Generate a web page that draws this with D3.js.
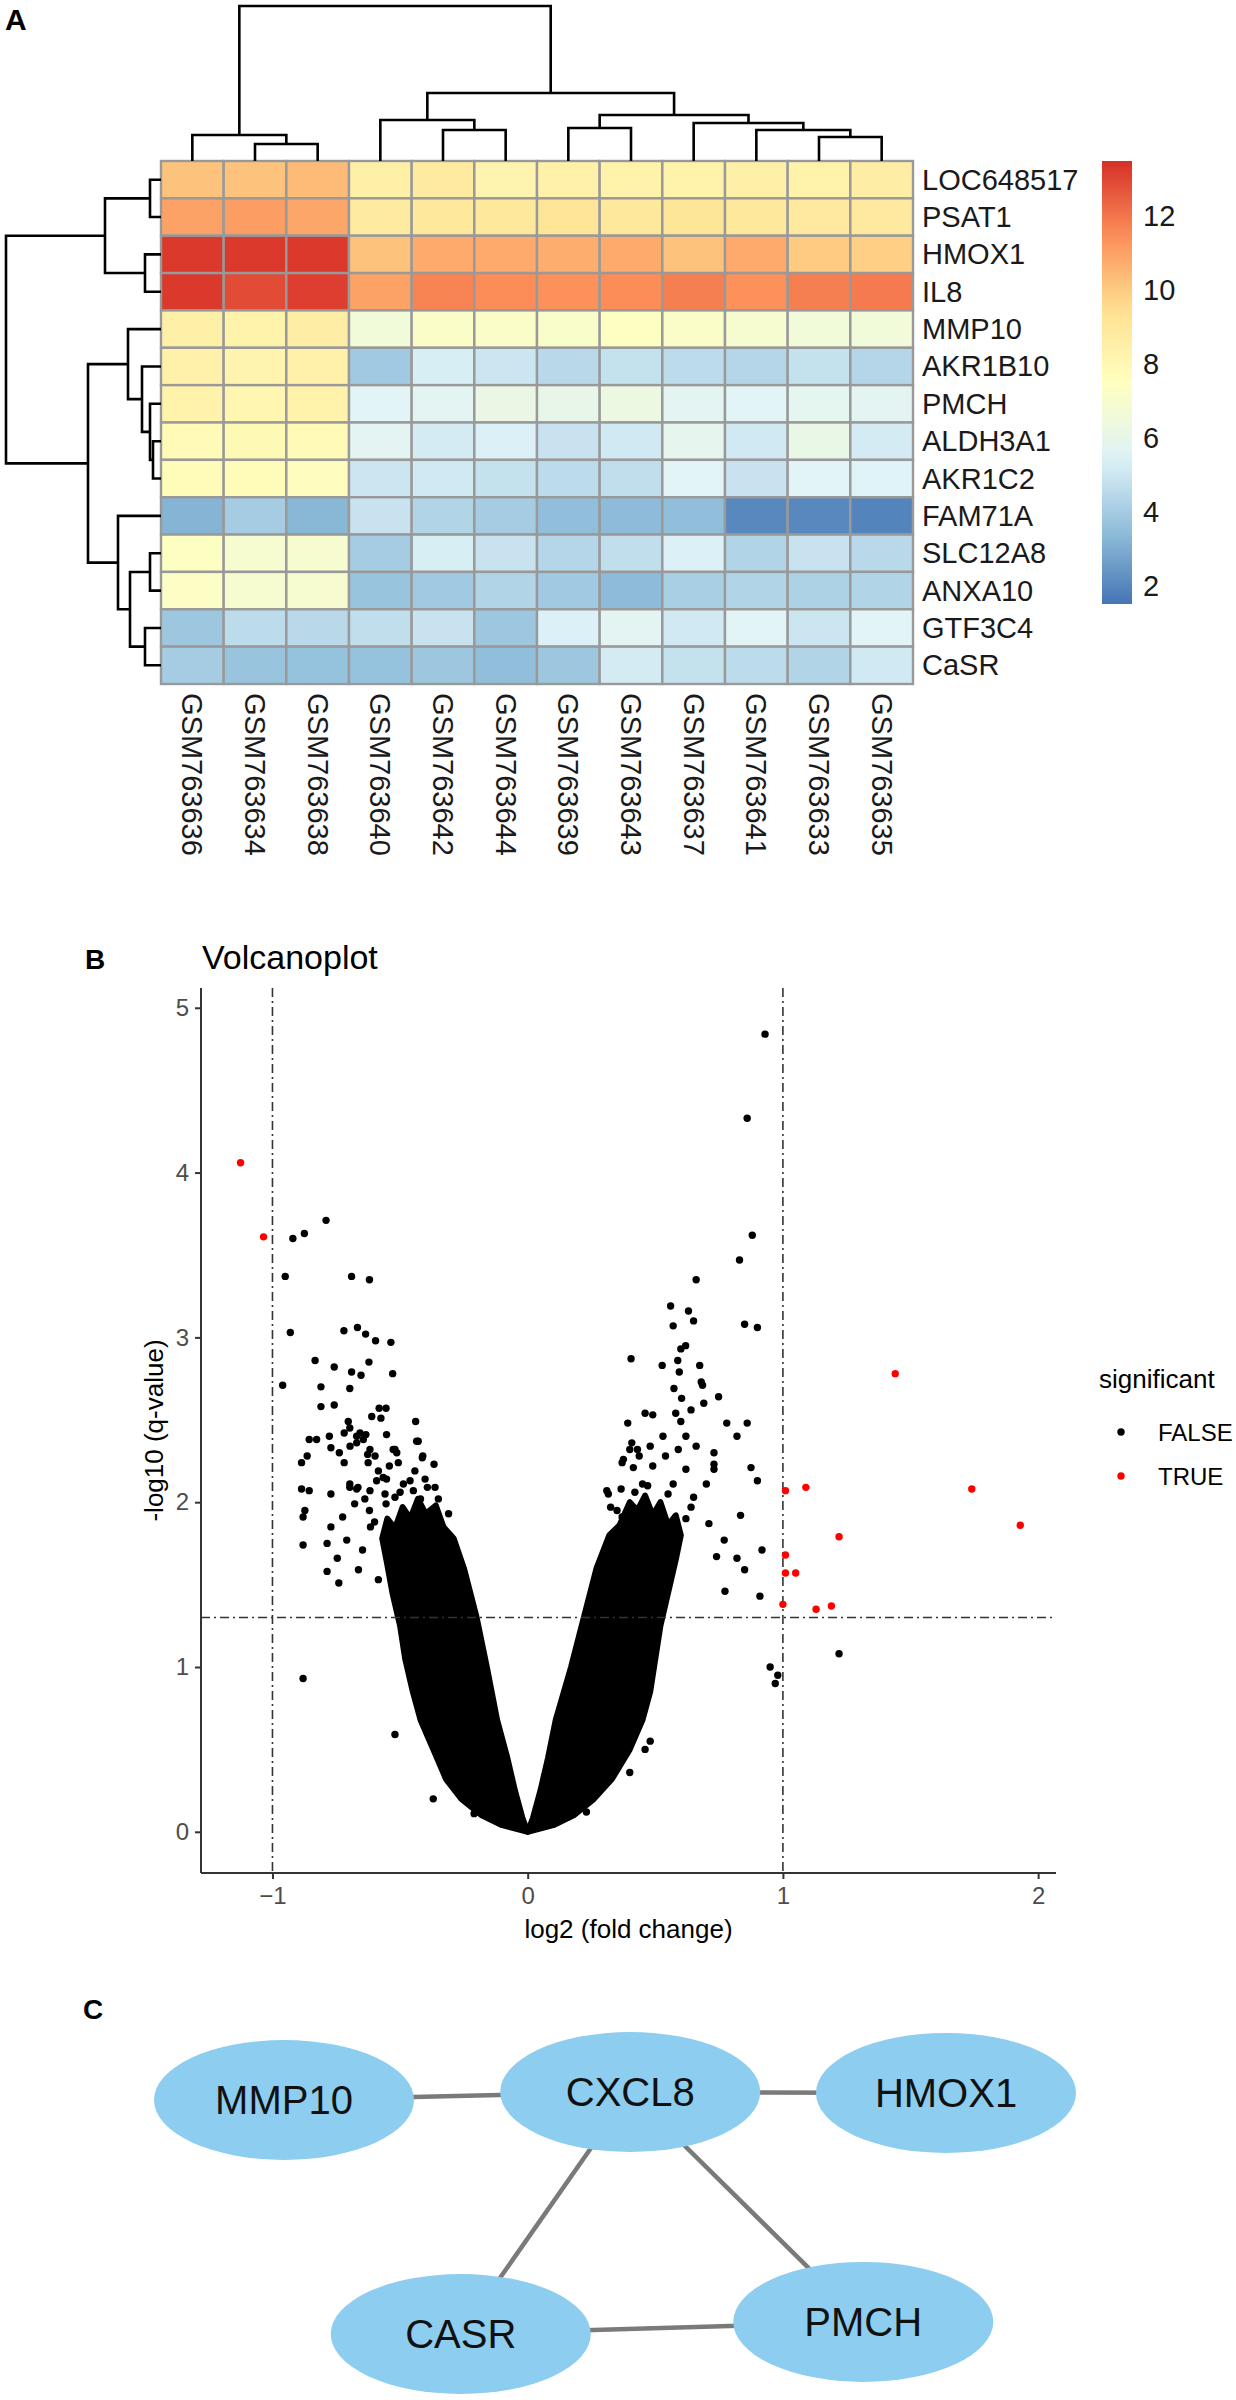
<!DOCTYPE html>
<html lang="en">
<head>
    <meta charset="UTF-8">
    <title>Heatmap, volcano plot and network</title>
    <script src="https://d3js.org/d3.v7.min.js"></script>
    <style>
        body { margin: 0; background: #fff; }
        text { font-family: "Liberation Sans", Arial, sans-serif; }
    </style>
</head>
<body>
<div id="fig"></div>
<script type="text/javascript">

    // ---- panel A data ----
    var genes = ["LOC648517", "PSAT1", "HMOX1", "IL8", "MMP10", "AKR1B10", "PMCH",
                 "ALDH3A1", "AKR1C2", "FAM71A", "SLC12A8", "ANXA10", "GTF3C4", "CaSR"];
    var samples = ["GSM763636", "GSM763634", "GSM763638", "GSM763640", "GSM763642", "GSM763644",
                   "GSM763639", "GSM763643", "GSM763637", "GSM763641", "GSM763633", "GSM763635"];
    // expression, one row per gene, columns in sample order
    var expr = [
        [10.2, 10.2, 10.4,  8.5,  8.8,  8.2,  8.4,  8.3,  8.3,  8.5,  8.3,  8.6],
        [11.0, 11.1, 10.9,  8.8,  9.0,  9.0,  9.2,  9.0,  9.1,  9.0,  8.9,  8.9],
        [13.3, 13.3, 13.3, 10.2, 10.8, 10.8, 10.7, 10.8, 10.2, 10.8, 10.0,  9.9],
        [13.3, 12.9, 13.2, 11.0, 11.7, 11.5, 11.4, 11.5, 11.8, 11.4, 11.8, 11.9],
        [ 8.5,  8.3,  8.6,  6.6,  7.2,  7.2,  7.1,  7.4,  7.2,  6.9,  6.6,  6.6],
        [ 8.4,  8.2,  8.4,  3.9,  5.3,  5.0,  4.5,  4.8,  4.6,  4.4,  4.8,  4.4],
        [ 8.3,  8.1,  8.3,  5.6,  5.7,  6.2,  6.0,  6.3,  5.7,  5.6,  5.8,  5.7],
        [ 7.8,  7.9,  7.8,  5.7,  5.2,  5.4,  4.9,  5.1,  5.9,  5.1,  6.1,  5.2],
        [ 7.7,  7.7,  7.6,  5.0,  5.1,  4.8,  4.6,  4.7,  5.6,  4.9,  5.6,  5.5],
        [ 3.2,  4.0,  3.3,  4.9,  4.3,  4.0,  3.5,  3.4,  3.5,  2.0,  2.0,  1.9],
        [ 7.4,  6.9,  6.9,  4.0,  5.3,  4.9,  4.4,  4.7,  5.4,  4.3,  4.9,  4.5],
        [ 7.3,  6.9,  6.9,  3.7,  3.9,  4.3,  3.9,  3.4,  4.1,  4.3,  4.2,  4.3],
        [ 3.8,  4.6,  4.5,  4.7,  4.9,  3.8,  5.4,  5.7,  5.1,  5.6,  5.0,  5.6],
        [ 4.0,  3.7,  3.6,  3.6,  3.8,  3.5,  3.8,  5.2,  4.8,  4.6,  4.3,  5.1]
    ];
    // hclust style merges: negative = leaf (1-based, display order), positive = earlier merge
    var rowMerges = [
        [-1, -2, 11], [-3, -4, 16], [1, 2, 56],
        [-8, -9, 8], [-7, 4, 11], [-6, 5, 19], [-5, 6, 33],
        [-11, -12, 11], [-13, -14, 16], [8, 9, 31], [-10, 10, 43],
        [7, 11, 73], [3, 12, 155]
    ];
    var colMerges = [
        [-2, -3, 17], [-1, 1, 26],
        [-5, -6, 31], [-4, 3, 41],
        [-7, -8, 33], [-11, -12, 24], [-10, 6, 31], [-9, 7, 38], [5, 8, 46],
        [4, 9, 68], [2, 10, 155]
    ];
    var legendTicks = [2, 4, 6, 8, 10, 12];
    var legendRange = [1.5, 13.5];
    var palette = ["#4575B4", "#91BFDB", "#E0F3F8", "#FFFFBF", "#FEE090", "#FC8D59", "#D73027"];

    // ---- panel B data ----
    var volcanoXTicks = [-1, 0, 1, 2];
    var volcanoYTicks = [0, 1, 2, 3, 4, 5];
    var fcCut = [-1, 1];
    var qCut = 1.3;
    // outline of the solid black mass of points (left arm / right arm)
    var denseLeft = [[0, 0], [-0.1, 0.04], [-0.18, 0.1], [-0.26, 0.2], [-0.32, 0.32], [-0.37, 0.5],
        [-0.42, 0.68], [-0.45, 0.85], [-0.48, 1.05], [-0.5, 1.25], [-0.53, 1.45], [-0.55, 1.62],
        [-0.57, 1.78], [-0.55, 1.9], [-0.52, 1.84], [-0.49, 1.97], [-0.46, 1.9], [-0.43, 2.02],
        [-0.4, 1.93], [-0.36, 1.98], [-0.33, 1.85], [-0.29, 1.78],
        [-0.25, 1.6], [-0.2, 1.3], [-0.16, 1.0], [-0.12, 0.68],
        [-0.08, 0.45], [-0.05, 0.25], [-0.02, 0.08], [0, 0]];
    var denseRight = [[0, 0], [0.1, 0.04], [0.18, 0.1], [0.26, 0.2], [0.33, 0.32], [0.4, 0.5],
        [0.45, 0.68], [0.48, 0.85], [0.5, 1.05], [0.52, 1.25], [0.55, 1.45], [0.58, 1.65],
        [0.6, 1.8], [0.58, 1.92], [0.55, 1.86], [0.52, 2.0], [0.49, 1.92], [0.46, 2.04],
        [0.43, 1.95], [0.4, 2.0], [0.36, 1.86], [0.32, 1.8],
        [0.27, 1.6], [0.22, 1.3], [0.17, 1.0], [0.11, 0.68],
        [0.08, 0.45], [0.05, 0.25], [0.02, 0.08], [0, 0]];
    var pointsFalse = [
        [-0.92, 3.60], [-0.875, 3.63], [-0.79, 3.71], [-0.95, 3.37], [-0.69, 3.37], [-0.62, 3.35],
        [-0.93, 3.03], [-0.72, 3.04], [-0.667, 3.06], [-0.635, 3.02], [-0.596, 2.98], [-0.536, 2.97],
        [-0.833, 2.86], [-0.622, 2.85], [-0.758, 2.82], [-0.69, 2.79], [-0.653, 2.77], [-0.529, 2.78],
        [-0.96, 2.71], [-0.81, 2.70], [-0.697, 2.69], [-0.81, 2.58], [-0.758, 2.59], [-0.611, 2.52],
        [-0.582, 2.57], [-0.555, 2.57], [-0.575, 2.51], [-0.439, 2.49], [-0.703, 2.49], [-0.697, 2.45],
        [-0.719, 2.42], [-0.777, 2.40], [-0.856, 2.38], [-0.827, 2.38], [-0.657, 2.42], [-0.553, 2.41],
        [-0.771, 2.33], [-0.738, 2.30], [-0.864, 2.28], [-0.886, 2.24], [-0.719, 2.24], [-0.67, 2.36],
        [-0.634, 2.41], [-0.627, 2.29], [-0.52, 2.32], [-0.435, 2.37], [-0.413, 2.27], [-0.367, 2.23],
        [-0.442, 2.19], [-0.886, 2.08], [-0.856, 2.07], [-0.771, 2.05], [-0.363, 2.09], [-0.402, 2.14],
        [-0.697, 2.09], [-0.665, 2.09], [-0.592, 2.13], [-0.553, 2.14], [-0.873, 1.95], [-0.88, 1.91],
        [-0.88, 1.74], [-0.786, 1.75], [-0.786, 1.58], [-0.746, 1.66], [-0.771, 1.85], [-0.88, 0.93],
        [-0.696, 2.34], [-0.670, 2.40], [-0.644, 2.38], [-0.625, 2.24], [-0.618, 2.32], [-0.598, 2.28],
        [-0.585, 2.19], [-0.566, 2.15], [-0.542, 2.22], [-0.527, 2.32], [-0.513, 2.30], [-0.507, 2.24],
        [-0.487, 2.11], [-0.461, 2.13], [-0.448, 2.07], [-0.429, 2.37], [-0.411, 2.28], [-0.393, 2.09],
        [-0.697, 2.11], [-0.670, 2.08], [-0.638, 2.02], [-0.618, 2.07], [-0.559, 2.05], [-0.520, 2.03],
        [-0.725, 1.91], [-0.678, 1.99], [-0.709, 1.77], [-0.647, 1.71], [-0.616, 1.85], [-0.663, 1.59],
        [-0.585, 1.53], [-0.74, 1.51], [-0.555, 1.99], [-0.52, 0.59], [-0.37, 0.2], [-0.21, 0.11],
        [-0.6, 1.88], [-0.62, 1.95], [-0.5, 2.06], [-0.42, 2.02], [-0.35, 2.02], [-0.31, 1.93],
        [0.93, 4.84], [0.86, 4.33], [0.88, 3.62], [0.83, 3.47], [0.66, 3.35], [0.56, 3.19], [0.63, 3.16],
        [0.65, 3.10], [0.57, 3.07], [0.85, 3.08], [0.90, 3.06], [0.405, 2.87], [0.527, 2.83], [0.588, 2.86],
        [0.674, 2.83], [0.594, 2.79], [0.68, 2.73], [0.685, 2.71], [0.573, 2.69], [0.748, 2.64],
        [0.69, 2.60], [0.603, 2.63], [0.58, 2.54], [0.46, 2.54], [0.49, 2.53], [0.64, 2.56], [0.60, 2.49],
        [0.78, 2.48], [0.86, 2.48], [0.392, 2.48], [0.82, 2.40], [0.408, 2.36], [0.375, 2.26], [0.437, 2.28],
        [0.43, 2.32], [0.366, 2.08], [0.316, 2.05], [0.414, 2.21], [0.875, 2.21], [0.90, 2.13], [0.73, 2.23],
        [0.834, 1.92], [0.918, 1.71], [0.82, 1.66], [0.773, 1.46], [0.619, 2.95], [0.60, 2.93],
        [0.37, 2.24], [0.40, 2.32], [0.45, 2.11], [0.49, 2.22], [0.54, 2.28], [0.57, 2.11], [0.62, 2.20],
        [0.65, 2.03], [0.70, 2.11], [0.73, 2.20], [0.59, 2.32], [0.53, 2.40], [0.48, 2.34], [0.62, 2.40],
        [0.66, 2.34], [0.73, 2.30], [0.31, 2.07], [0.325, 1.97], [0.37, 1.91], [0.71, 1.87], [0.77, 1.77],
        [0.74, 1.67], [0.85, 1.59], [0.91, 1.43], [0.23, 0.12], [0.40, 0.36], [0.46, 0.5], [0.48, 0.55],
        [0.62, 1.9], [0.64, 1.97], [0.55, 2.05], [0.47, 2.1], [0.42, 2.06], [0.35, 1.95],
        [0.95, 1.0], [0.98, 0.95], [0.97, 0.90], [1.22, 1.08]
    ];
    var pointsTrue = [
        [-1.125, 4.06], [-1.035, 3.61], [1.44, 2.78], [1.01, 2.07], [1.09, 2.09], [1.74, 2.08],
        [1.93, 1.86], [1.22, 1.79], [1.01, 1.68], [1.01, 1.57], [1.05, 1.57], [1.0, 1.38],
        [1.13, 1.35], [1.19, 1.37]
    ];
    var legendKeys = ["FALSE", "TRUE"];
    var legendColors = ["#000000", "#FF0000"];

    // ---- panel C data (layout units) ----
    var netNodes = [
        {id: "MMP10", lx: 0, ly: 0.033},
        {id: "CXCL8", lx: 0.523, ly: 0},
        {id: "HMOX1", lx: 1, ly: 0.004},
        {id: "CASR", lx: 0.267, ly: 1},
        {id: "PMCH", lx: 0.875, ly: 0.95}
    ];
    var netEdges = [["MMP10", "CXCL8"], ["CXCL8", "HMOX1"], ["CXCL8", "CASR"], ["CXCL8", "PMCH"], ["CASR", "PMCH"]];

    var width = 1236, height = 2400;

    var svg = d3.select("#fig")
        .append("svg")
        .attr("width", width)
        .attr("height", height);

    // panel letters
    svg.append("text").attr("x", 5).attr("y", 30).text("A")
        .style("font-size", "30px").style("font-weight", "bold");
    svg.append("text").attr("x", 85).attr("y", 969).text("B")
        .style("font-size", "28px").style("font-weight", "bold");
    svg.append("text").attr("x", 83).attr("y", 2019).text("C")
        .style("font-size", "28px").style("font-weight", "bold");

    // ================= A: heatmap =================
    var xCell = d3.scaleBand().domain(samples).range([161, 913]);
    var yCell = d3.scaleBand().domain(genes).range([161, 684]);

    var colorScale = d3.scaleLinear()
        .domain(palette.map(function(c, i) { return legendRange[0] + i * (legendRange[1] - legendRange[0]) / (palette.length - 1); }))
        .range(palette);

    var cells = [];
    expr.forEach(function(row, i) {
        row.forEach(function(v, j) { cells.push({gene: genes[i], sample: samples[j], value: v}); });
    });

    svg.append("g").selectAll("rect")
        .data(cells)
        .enter()
        .append("rect")
        .attr("x", function(d) { return xCell(d.sample); })
        .attr("y", function(d) { return yCell(d.gene); })
        .attr("width", xCell.bandwidth())
        .attr("height", yCell.bandwidth())
        .style("fill", function(d) { return colorScale(d.value); })
        .style("stroke", "#999999")
        .style("stroke-width", 2.4);

    // row labels
    svg.append("g").selectAll("text")
        .data(genes)
        .enter()
        .append("text")
        .attr("x", 922)
        .attr("y", function(d) { return yCell(d) + yCell.bandwidth() / 2; })
        .attr("dominant-baseline", "central")
        .style("font-size", "29px")
        .style("fill", "#1a1a1a")
        .text(function(d) { return d; });

    // column labels (read top to bottom)
    svg.append("g").selectAll("text")
        .data(samples)
        .enter()
        .append("text")
        .attr("transform", function(d) { return "translate(" + (xCell(d) + xCell.bandwidth() / 2) + ",693) rotate(90)"; })
        .attr("dominant-baseline", "central")
        .style("font-size", "29px")
        .style("fill", "#1a1a1a")
        .text(function(d) { return d; });

    // dendrograms
    function layoutMerges(merges, leafPos) {
        var pos = [], hts = [];
        function p(k) { return k < 0 ? leafPos(-k - 1) : pos[k - 1]; }
        function h(k) { return k < 0 ? 0 : hts[k - 1]; }
        var segs = [];
        merges.forEach(function(m) {
            var a = m[0], b = m[1];
            segs.push({p1: p(a), h1: h(a), p2: p(b), h2: h(b), h: m[2]});
            pos.push((p(a) + p(b)) / 2);
            hts.push(m[2]);
        });
        return segs;
    }

    var colH = d3.scaleLinear().domain([0, 155]).range([161, 6]);
    var rowH = d3.scaleLinear().domain([0, 155]).range([161, 6]);

    var colSegs = layoutMerges(colMerges, function(i) { return xCell(samples[i]) + xCell.bandwidth() / 2; });
    svg.append("g").selectAll("path")
        .data(colSegs)
        .enter()
        .append("path")
        .attr("d", function(s) {
            return "M" + s.p1 + "," + colH(s.h1) + "V" + colH(s.h) + "H" + s.p2 + "V" + colH(s.h2);
        })
        .style("fill", "none")
        .style("stroke", "#000")
        .style("stroke-width", 2.6);

    var rowSegs = layoutMerges(rowMerges, function(i) { return yCell(genes[i]) + yCell.bandwidth() / 2; });
    svg.append("g").selectAll("path")
        .data(rowSegs)
        .enter()
        .append("path")
        .attr("d", function(s) {
            return "M" + rowH(s.h1) + "," + s.p1 + "H" + rowH(s.h) + "V" + s.p2 + "H" + rowH(s.h2);
        })
        .style("fill", "none")
        .style("stroke", "#000")
        .style("stroke-width", 2.6);

    // colour key
    var keyY = d3.scaleLinear().domain(legendRange).range([604, 161]);
    var grad = svg.append("defs").append("linearGradient")
        .attr("id", "heatGrad")
        .attr("x1", "0%").attr("y1", "100%")
        .attr("x2", "0%").attr("y2", "0%");
    d3.range(0, 1.0001, 0.05).forEach(function(t) {
        grad.append("stop")
            .attr("offset", (t * 100) + "%")
            .attr("stop-color", colorScale(legendRange[0] + t * (legendRange[1] - legendRange[0])));
    });
    svg.append("rect")
        .attr("x", 1102).attr("y", keyY(legendRange[1]))
        .attr("width", 30).attr("height", keyY(legendRange[0]) - keyY(legendRange[1]))
        .style("fill", "url(#heatGrad)");
    svg.append("g").selectAll("text")
        .data(legendTicks)
        .enter()
        .append("text")
        .attr("x", 1143)
        .attr("y", function(d) { return keyY(d); })
        .attr("dominant-baseline", "central")
        .style("font-size", "29px")
        .style("fill", "#1a1a1a")
        .text(function(d) { return d; });

    // ================= B: volcano =================
    var x = d3.scaleLinear().domain([-1.28, 2.07]).range([201, 1056]);
    var y = d3.scaleLinear().domain([-0.25, 5.12]).range([1873, 988]);

    svg.append("text")
        .attr("x", 202).attr("y", 969)
        .style("font-size", "34px")
        .text("Volcanoplot");

    var vol = svg.append("g");

    var outline = d3.line()
        .x(function(d) { return x(d[0]); })
        .y(function(d) { return y(d[1]); });
    vol.selectAll("path.dense")
        .data([denseLeft, denseRight])
        .enter()
        .append("path")
        .attr("class", "dense")
        .attr("d", function(d) { return outline(d) + "Z"; })
        .style("fill", "#000")
        .style("stroke", "#000")
        .style("stroke-width", 6)
        .style("stroke-linejoin", "round");

    vol.selectAll("circle.f")
        .data(pointsFalse)
        .enter()
        .append("circle")
        .attr("class", "f")
        .attr("cx", function(d) { return x(d[0]); })
        .attr("cy", function(d) { return y(d[1]); })
        .attr("r", 3.7)
        .style("fill", "#000");

    // threshold lines
    var dash = "9,4,2,4";
    vol.selectAll("line.v")
        .data(fcCut)
        .enter()
        .append("line")
        .attr("class", "v")
        .attr("x1", function(d) { return x(d); }).attr("x2", function(d) { return x(d); })
        .attr("y1", y.range()[1]).attr("y2", y.range()[0])
        .style("stroke", "#333").style("stroke-width", 1.6).style("stroke-dasharray", dash);
    vol.append("line")
        .attr("x1", x.range()[0]).attr("x2", x.range()[1])
        .attr("y1", y(qCut)).attr("y2", y(qCut))
        .style("stroke", "#333").style("stroke-width", 1.6).style("stroke-dasharray", dash);

    vol.selectAll("circle.t")
        .data(pointsTrue)
        .enter()
        .append("circle")
        .attr("class", "t")
        .attr("cx", function(d) { return x(d[0]); })
        .attr("cy", function(d) { return y(d[1]); })
        .attr("r", 3.7)
        .style("fill", "#FF0000");

    // axes
    var xAxis = d3.axisBottom(x).tickValues(volcanoXTicks).tickSize(6).tickPadding(8).tickFormat(d3.format("d"));
    var yAxis = d3.axisLeft(y).tickValues(volcanoYTicks).tickSize(6).tickPadding(6).tickFormat(d3.format("d"));

    var gx = svg.append("g").attr("transform", "translate(0,1873)").call(xAxis);
    var gy = svg.append("g").attr("transform", "translate(201,0)").call(yAxis);
    [gx, gy].forEach(function(g) {
        g.select(".domain").style("stroke", "#333").style("stroke-width", 2);
        g.selectAll(".tick line").style("stroke", "#333").style("stroke-width", 2);
        g.selectAll(".tick text").style("font-size", "24px").style("fill", "#4d4d4d")
            .style("font-family", "'Liberation Sans', Arial, sans-serif");
    });
    // ggplot draws the axis line only over the panel
    gx.select(".domain").attr("d", "M" + x.range()[0] + ",0H" + x.range()[1]);
    gy.select(".domain").attr("d", "M0," + y.range()[0] + "V" + y.range()[1]);

    svg.append("text")
        .attr("x", (x.range()[0] + x.range()[1]) / 2).attr("y", 1938)
        .attr("text-anchor", "middle")
        .style("font-size", "26px")
        .text("log2 (fold change)");
    svg.append("text")
        .attr("transform", "translate(163," + ((y.range()[0] + y.range()[1]) / 2) + ") rotate(-90)")
        .attr("text-anchor", "middle")
        .style("font-size", "26px")
        .text("-log10 (q-value)");

    // legend
    svg.append("text").attr("x", 1099).attr("y", 1388)
        .style("font-size", "26px").text("significant");
    var leg = svg.append("g").selectAll("g")
        .data(legendKeys)
        .enter()
        .append("g")
        .attr("transform", function(d, i) { return "translate(1121," + (1432 + i * 44) + ")"; });
    leg.append("circle").attr("r", 3.7).style("fill", function(d, i) { return legendColors[i]; });
    leg.append("text").attr("x", 37).attr("dominant-baseline", "central")
        .style("font-size", "24px").text(function(d) { return d; });

    // ================= C: network =================
    var nx = d3.scaleLinear().domain([0, 1]).range([284, 946]);
    var ny = d3.scaleLinear().domain([0, 1]).range([2092, 2334]);
    var byId = {};
    netNodes.forEach(function(n) { byId[n.id] = n; });

    svg.append("g").selectAll("line")
        .data(netEdges)
        .enter()
        .append("line")
        .attr("x1", function(e) { return nx(byId[e[0]].lx); })
        .attr("y1", function(e) { return ny(byId[e[0]].ly); })
        .attr("x2", function(e) { return nx(byId[e[1]].lx); })
        .attr("y2", function(e) { return ny(byId[e[1]].ly); })
        .style("stroke", "#7a7a7a")
        .style("stroke-width", 4.5);

    var node = svg.append("g").selectAll("g")
        .data(netNodes)
        .enter()
        .append("g")
        .attr("transform", function(n) { return "translate(" + nx(n.lx) + "," + ny(n.ly) + ")"; });
    node.append("ellipse")
        .attr("rx", 130).attr("ry", 60)
        .style("fill", "#8ccdf0");
    node.append("text")
        .attr("text-anchor", "middle")
        .attr("dominant-baseline", "central")
        .style("font-size", "40px")
        .style("fill", "#111")
        .text(function(n) { return n.id; });

</script>
</body>
</html>
